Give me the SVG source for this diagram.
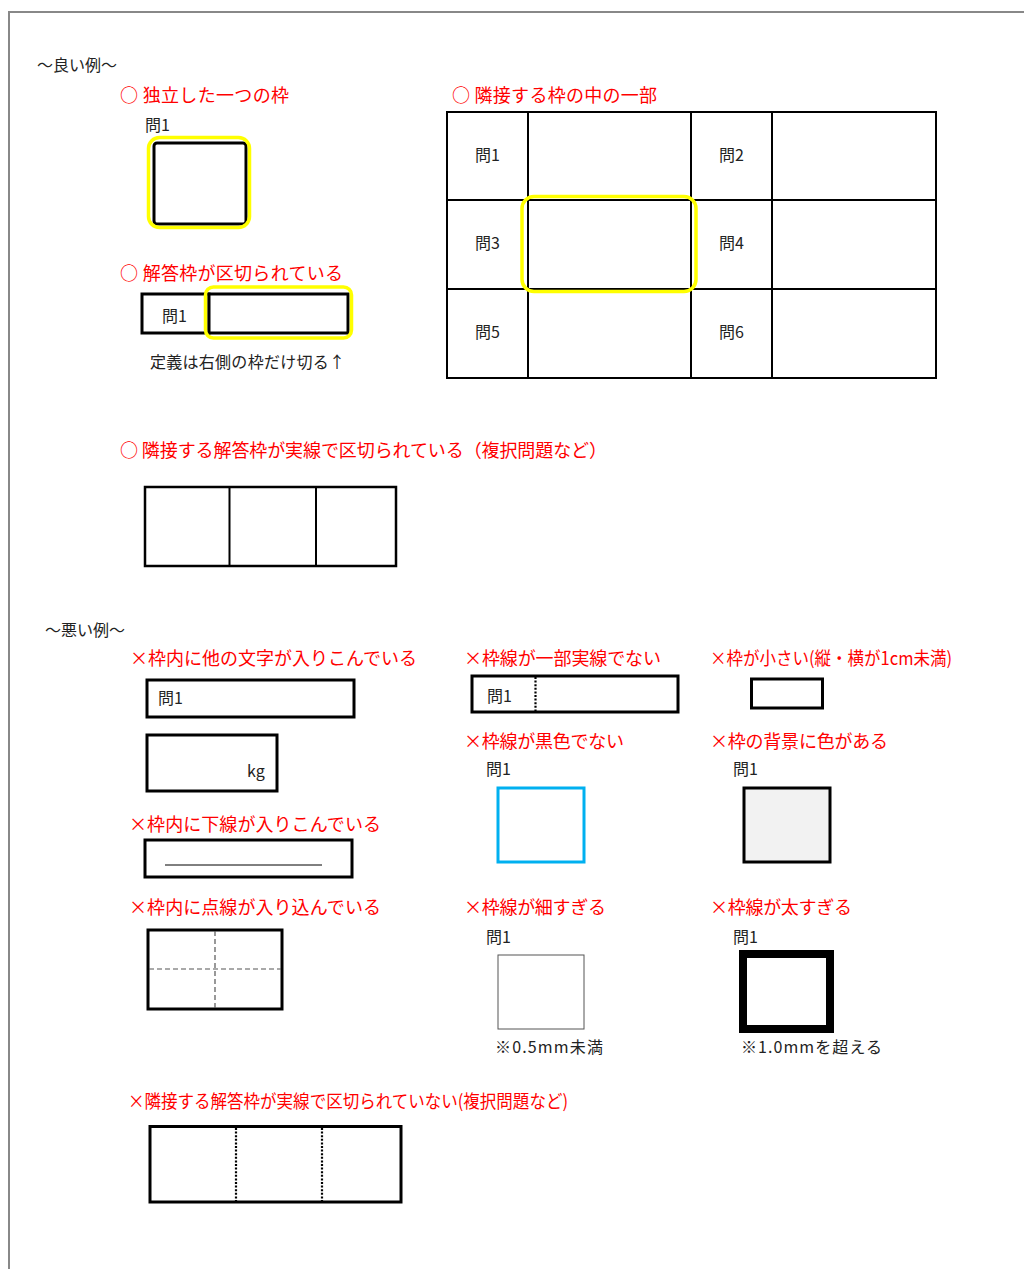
<svg xmlns="http://www.w3.org/2000/svg" width="1024" height="1269" viewBox="0 0 1024 1269">
<style>
text{font-family:"Noto Sans CJK JP","Noto Sans",sans-serif}
.red{fill:#ff0000;font-size:18px}
.lbl{fill:#222;font-size:16px}
.hd{fill:#222;font-size:16px}
.box{fill:#fff;stroke:#000;stroke-width:3}
.box2{fill:#fff;stroke:#000;stroke-width:2.5}
.grid{fill:none;stroke:#000;stroke-width:2}
.hl{fill:none;stroke:#ffff00;stroke-width:3.5}
.dot{stroke:#000;stroke-width:2.2;stroke-dasharray:2 1.6}
.dash{stroke:#555;stroke-width:1.2;stroke-dasharray:5 3}
</style>
<rect width="1024" height="1269" fill="#fff"/>
<path d="M9 1269V12H1024" fill="none" stroke="#888" stroke-width="2"/>

<text class="hd" x="37" y="71">～良い例～</text>

<g id="good-single">
<text class="red" x="120" y="102" textLength="169">○ 独立した一つの枠</text>
<text class="lbl" x="145" y="131">問1</text>
<rect class="box" x="154" y="143" width="92" height="81" rx="3"/>
<rect class="hl" x="148.5" y="137.5" width="101" height="90" rx="11"/>
</g>

<g id="good-divided">
<text class="red" x="120" y="280" textLength="223">○ 解答枠が区切られている</text>
<rect class="box" x="142" y="294" width="67" height="39"/>
<text class="lbl" x="162" y="322">問1</text>
<rect class="box" x="209" y="294" width="139" height="39"/>
<rect class="hl" x="205.5" y="287" width="146" height="51" rx="8"/>
<text class="lbl" x="150" y="368" textLength="195">定義は右側の枠だけ切る↑</text>
</g>

<g id="good-grid">
<text class="red" x="452" y="102" textLength="205">○ 隣接する枠の中の一部</text>
<rect class="grid" x="447" y="112" width="489" height="266"/>
<path class="grid" d="M528 112V378M691 112V378M772 112V378M447 200H936M447 289H936"/>
<text class="lbl" x="475" y="161">問1</text>
<text class="lbl" x="719" y="161">問2</text>
<text class="lbl" x="475" y="249">問3</text>
<text class="lbl" x="719" y="249">問4</text>
<text class="lbl" x="475" y="338">問5</text>
<text class="lbl" x="719" y="338">問6</text>
<rect class="hl" x="522" y="196.5" width="174" height="95" rx="12"/>
</g>

<g id="good-adjacent">
<text class="red" x="120" y="457" textLength="487">○ 隣接する解答枠が実線で区切られている（複択問題など）</text>
<rect class="box2" x="145" y="487" width="251" height="79"/>
<path class="grid" d="M229.5 487V566M316 487V566" stroke-width="2.5"/>
</g>

<text class="hd" x="45" y="636">～悪い例～</text>

<g id="bad-text-inside">
<text class="red" x="130" y="665" textLength="287">×枠内に他の文字が入りこんでいる</text>
<rect class="box" x="147" y="680" width="207" height="37"/>
<text class="lbl" x="158" y="704">問1</text>
<rect class="box" x="147" y="735" width="130" height="56"/>
<text class="lbl" x="247" y="777">kg</text>
</g>

<g id="bad-partial-dotted">
<text class="red" x="464" y="665" textLength="197">×枠線が一部実線でない</text>
<rect class="box" x="472" y="676" width="206" height="36"/>
<text class="lbl" x="487" y="702">問1</text>
<line class="dot" x1="535.5" y1="677" x2="535.5" y2="711"/>
</g>

<g id="bad-small">
<text class="red" x="710" y="665" textLength="242" lengthAdjust="spacingAndGlyphs">×枠が小さい(縦・横が1cm未満)</text>
<rect class="box" x="751.5" y="679" width="71" height="29"/>
</g>

<g id="bad-color">
<text class="red" x="464" y="748" textLength="160">×枠線が黒色でない</text>
<text class="lbl" x="486" y="775">問1</text>
<rect x="498" y="788" width="86" height="74" fill="#fff" stroke="#00b0f0" stroke-width="3"/>
</g>

<g id="bad-background">
<text class="red" x="710" y="748" textLength="178">×枠の背景に色がある</text>
<text class="lbl" x="733" y="775">問1</text>
<rect x="744" y="788" width="86" height="74" fill="#f2f2f2" stroke="#000" stroke-width="3"/>
</g>

<g id="bad-underline">
<text class="red" x="129" y="831" textLength="252">×枠内に下線が入りこんでいる</text>
<rect class="box" x="145" y="840" width="207" height="37"/>
<line x1="165" y1="865" x2="322" y2="865" stroke="#000" stroke-width="1"/>
</g>

<g id="bad-dashed">
<text class="red" x="129" y="914" textLength="252">×枠内に点線が入り込んでいる</text>
<rect class="box" x="148" y="930" width="134" height="79"/>
<line class="dash" x1="215" y1="931" x2="215" y2="1008"/>
<line class="dash" x1="149" y1="969" x2="281" y2="969"/>
</g>

<g id="bad-thin">
<text class="red" x="464" y="914" textLength="142">×枠線が細すぎる</text>
<text class="lbl" x="486" y="943">問1</text>
<rect x="498" y="955" width="86" height="74" fill="#fff" stroke="#555" stroke-width="1"/>
<text class="lbl" x="495" y="1053" textLength="108">※0.5mm未満</text>
</g>

<g id="bad-thick">
<text class="red" x="710" y="914" textLength="142">×枠線が太すぎる</text>
<text class="lbl" x="733" y="943">問1</text>
<rect x="743" y="954" width="87" height="75" fill="#fff" stroke="#000" stroke-width="8"/>
<text class="lbl" x="741" y="1053" textLength="141">※1.0mmを超える</text>
</g>

<g id="bad-adjacent">
<text class="red" x="128" y="1108" font-size="16.5" textLength="440" lengthAdjust="spacingAndGlyphs">×隣接する解答枠が実線で区切られていない(複択問題など)</text>
<rect class="box" x="150" y="1126.5" width="251" height="75.5"/>
<line class="dot" x1="236" y1="1128" x2="236" y2="1201"/>
<line class="dot" x1="322" y1="1128" x2="322" y2="1201"/>
</g>
</svg>
